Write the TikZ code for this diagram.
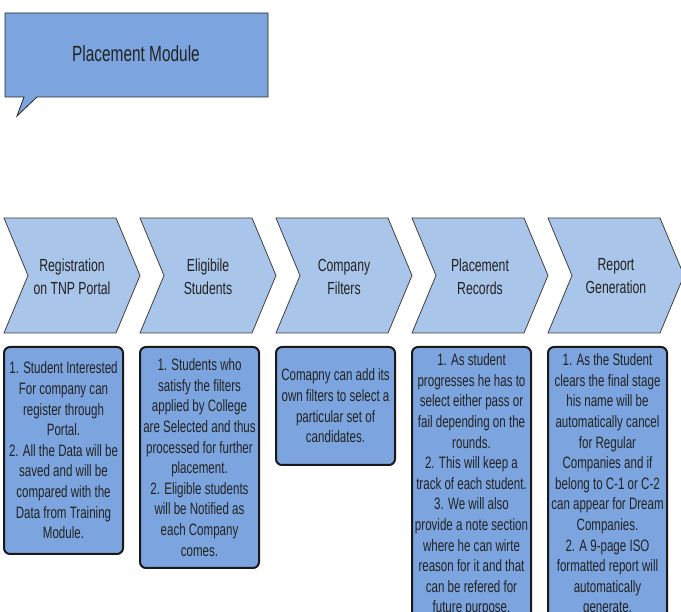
\documentclass[tikz,border=0pt]{standalone}
\usepackage{fontspec}
\newfontfamily\arialn{Liberation Sans}[FakeStretch=0.7]
\definecolor{chevfill}{HTML}{A9C5EA}
\definecolor{boxfill}{HTML}{7CA5DF}
\definecolor{txtgray}{HTML}{222222}
\tikzset{
  chev/.style={fill=chevfill, draw=black!75, line width=0.8pt},
  steptext/.style={align=center, text=txtgray, font=\arialn\fontsize{17.5}{23}\selectfont},
  infobox/.style={draw=black!90, fill=boxfill, line width=2pt, rounded corners=6pt,
    minimum width=119pt, anchor=north, inner sep=0pt, align=center, text=txtgray,
    font=\arialn\fontsize{16.5}{20.6}\selectfont},
}

\begin{document}
\begin{tikzpicture}[x=1pt,y=-1pt]
\clip (0,0) rectangle (681,612);
\fill[white] (0,0) rectangle (681,612);

\filldraw[fill=boxfill, draw=black!85, line width=0.8pt]
  (5,13) -- (268,13) -- (268,97) -- (37,97) -- (17,116) -- (24,97) -- (5,97) -- cycle;
\node[text=txtgray, font=\arialn\fontsize{22}{26}\selectfont] (title) at (136,54) {Placement Module};

\foreach \i/\txt in {0/{Registration\\on TNP Portal}, 1/{Eligibile\\Students}, 2/{Company\\Filters},
                     3/{Placement\\Records}, 4/{Report\\Generation}}{
  \pgfmathsetmacro\x{4+136*\i}
  \draw[chev] (\x,218) -- ++(112,0) -- ++(24,57.5) -- ++(-24,57.5) -- ++(-112,0) -- ++(24,-57.5) -- cycle;
  \node[steptext] (step\i) at (\x+68,276.5) {\txt};
}

\node[infobox, minimum height=207pt] (info0) at (63.5,346)
  {1. Student Interested\\For company can\\register through\\Portal.\\2. All the Data will be\\saved and will be\\compared with the\\Data from Training\\Module.};
\node[infobox, minimum height=221pt] (info1) at (199.5,346)
  {1. Students who\\satisfy the filters\\applied by College\\are Selected and thus\\processed for further\\placement.\\2. Eligible students\\will be Notified as\\each Company\\comes.};
\node[infobox, minimum height=118pt] (info2) at (335.5,346)
  {Comapny can add its\\own filters to select a\\particular set of\\candidates.};
\node[infobox, minimum height=276pt] (info3) at (471.5,346)
  {1. As student\\progresses he has to\\select either pass or\\fail depending on the\\rounds.\\2. This will keep a\\track of each student.\\3. We will also\\provide a note section\\where he can wirte\\reason for it and that\\can be refered for\\future purpose.};
\node[infobox, minimum height=276pt] (info4) at (607.5,346)
  {1. As the Student\\clears the final stage\\his name will be\\automatically cancel\\for Regular\\Companies and if\\belong to C-1 or C-2\\can appear for Dream\\Companies.\\2. A 9-page ISO\\formatted report will\\automatically\\generate.};
\end{tikzpicture}
\end{document}
